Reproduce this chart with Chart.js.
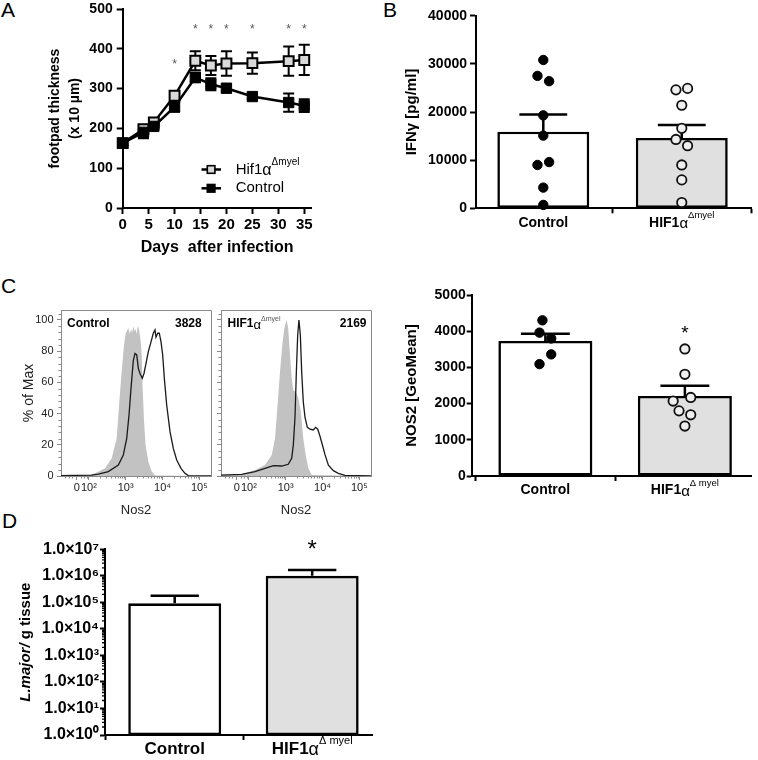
<!DOCTYPE html>
<html><head><meta charset="utf-8">
<script src="https://cdn.jsdelivr.net/npm/chart.js@4.4.1/dist/chart.umd.min.js"></script>
<style>
html,body{margin:0;padding:0;background:#fff;}
#fig{position:relative;width:758px;height:760px;overflow:hidden;background:#fff;}
#fig canvas{position:absolute;}
.lbl{position:absolute;font-family:'Liberation Sans',Arial,Helvetica,sans-serif;font-size:21px;line-height:1;color:#000;}
</style></head><body>
<div id="fig">
<div class="lbl" style="left:1px;top:-1px">A</div>
<div class="lbl" style="left:383px;top:-1px">B</div>
<div class="lbl" style="left:1px;top:275px">C</div>
<div class="lbl" style="left:2px;top:510px">D</div>
</div>
<script>
// ================= DATA =================
// Panel A: footpad thickness (x 10 µm) over days after infection
const daysA = [0, 4, 6, 10, 14, 17, 20, 25, 32, 35];
const hifMeanA = [163, 198, 215, 282, 370, 358, 363, 364, 369, 372];
const hifSemA = [5, 8, 6, 11, 24, 24, 31, 27, 37, 38];
const ctrlMeanA = [163, 190, 205, 254, 328, 311, 301, 280, 265, 257];
const ctrlSemA = [5, 15, 7, 12, 12, 15, 10, 7, 23, 16];
const dayTicksA = [0, 5, 10, 15, 20, 25, 30, 35];
const yTicksA = [0, 100, 200, 300, 400, 500];
const starDaysA = [10, 14, 17, 20, 25, 32, 35];
const starValsA = [368, 458, 458, 458, 458, 458, 458];
const seriesNamesA = ['Hif1α', 'Control'];

// Groups
const groupNames = ['Control', 'HIF1α'];

// Panel B: IFNγ [pg/ml]
const ifngCtrl = [30800, 27500, 26400, 19300, 15100, 9000, 9600, 4300, 700];
const ifngHif = [24600, 24900, 21400, 16600, 14300, 13000, 9000, 5900, 1200];
const ifngMean = [15900, 14600];
const ifngSem = [3600, 2700];
const yTicksB = [0, 10000, 20000, 30000, 40000];

// Panel C: Nos2 histograms (x = log10 fluorescence, y = % of max)
const histTickPos = [1.67, 2, 3, 4, 5];
const histTickLabels = ['0', '10²', '10³', '10⁴', '10⁵'];
const histYTicks = [0, 20, 40, 60, 80, 100];
const histGeoMean = [3828, 2169];
const ctrlIsoX = [1.242, 1.98, 2.166, 2.44, 2.62, 2.755, 2.82, 2.89, 2.954, 3.0, 3.035, 3.07, 3.11, 3.145, 3.18, 3.21, 3.24, 3.27, 3.30, 3.326, 3.35, 3.37, 3.41, 3.435, 3.46, 3.50, 3.54, 3.615, 3.71, 3.80, 5.318];
const ctrlIsoY = [0, 0.5, 1.7, 4.9, 11.3, 24, 45.5, 66.9, 84, 91.5, 93, 95, 91, 94, 92, 96, 93, 94, 91, 96, 95, 93, 86, 77.6, 56, 34.8, 19.9, 9.2, 2.8, 0.3, 0];
const ctrlNosX = [1.242, 1.6, 2.075, 2.255, 2.527, 2.80, 2.935, 3.027, 3.09, 3.144, 3.207, 3.253, 3.30, 3.343, 3.389, 3.452, 3.497, 3.543, 3.615, 3.688, 3.75, 3.796, 3.823, 3.87, 3.913, 3.96, 4.005, 4.05, 4.114, 4.204, 4.294, 4.386, 4.503, 4.61, 4.70, 5.318];
const ctrlNosY = [0.3, 0.4, 0.5, 1.2, 2.8, 7, 13.5, 24, 39, 56, 74, 78.6, 77.6, 69, 65.7, 62.6, 65.7, 71, 79.7, 86, 91.5, 93.6, 89, 91.5, 91.5, 86, 77.6, 62.6, 45.5, 28.4, 17.7, 10.3, 4.9, 1.7, 0.3, 0];
const hifIsoX = [1.242, 1.804, 2.166, 2.437, 2.62, 2.71, 2.78, 2.845, 2.908, 2.963, 3.0, 3.027, 3.05, 3.07, 3.117, 3.163, 3.207, 3.27, 3.343, 3.41, 3.478, 3.543, 3.615, 3.706, 5.318];
const hifIsoY = [0.5, 1.2, 3.8, 7, 13.5, 24, 45.5, 66.9, 84, 94.7, 98, 100, 97, 94, 77.6, 62.6, 55, 54, 50, 41.5, 24, 13.5, 4.9, 0.6, 0];
const hifNosX = [1.242, 1.804, 2.166, 2.437, 2.665, 2.89, 3.07, 3.163, 3.207, 3.253, 3.29, 3.326, 3.36, 3.398, 3.434, 3.478, 3.525, 3.589, 3.66, 3.75, 3.815, 3.87, 3.93, 3.996, 4.07, 4.16, 4.296, 4.43, 4.61, 5.318];
const hifNosY = [0.5, 1, 2.8, 4.9, 6.6, 6.4, 7.5, 11.3, 19.8, 37.6, 66.9, 90.4, 100, 90.4, 66.9, 47.6, 37.6, 31.2, 30, 29.5, 31.2, 30, 25.6, 20, 13.5, 7, 3.4, 1.7, 0.4, 0];

// Panel C right: NOS2 [GeoMean]
const nosCtrl = [4300, 3960, 3800, 3360, 3090];
const nosHif = [3510, 2810, 2070, 2170, 1800, 1690, 1380];
const nosMean = [3730, 2210];
const nosSem = [200, 280];
const yTicksC = [0, 1000, 2000, 3000, 4000, 5000];
const nosStarValue = 4080;

// Panel D: L. major per g tissue
const parasiteMean = [92000, 1000000];
const parasiteSem = [87000, 660000];
const yTicksD = [1, 10, 100, 1000, 10000, 100000, 1000000, 10000000];
const yTickLabelsD = ['1.0×10⁰', '1.0×10¹', '1.0×10²', '1.0×10³', '1.0×10⁴', '1.0×10⁵', '1.0×10⁶', '1.0×10⁷'];
const parasiteStarValue = 17000000;

// ================= STYLE / HELPERS =================
const FF = "'Liberation Sans', Arial, Helvetica, sans-serif";
Chart.defaults.font.family = FF;
Chart.defaults.color = '#000';
Chart.defaults.animation = false;
Chart.defaults.responsive = false;
Chart.defaults.devicePixelRatio = 1;
Chart.defaults.plugins.legend.display = false;
Chart.defaults.plugins.tooltip.enabled = false;

// point jitter (in units of group spacing)
const jitB = { ctrl: [0, -1, 1, 0, 0, -1, 1, 0, 0], hif: [-1, 1, 0, 0, -1, 1, 0, 0, 0] };
const jitC = { ctrl: [-0.5, -1, 1, 1, -1], hif: [0, 0, -2, 1, -1, 1, 0] };

const F = (w, s, st) => (st ? st + ' ' : '') + w + ' ' + s + 'px ' + FF;
function drawRich(ctx, parts, x, y, align) {
  ctx.save();
  let w = 0;
  for (const p of parts) { ctx.font = p.f; w += ctx.measureText(p.t).width; }
  let cx = align === 'center' ? x - w / 2 : (align === 'right' ? x - w : x);
  ctx.textAlign = 'left'; ctx.textBaseline = 'middle';
  for (const p of parts) {
    ctx.font = p.f; ctx.fillStyle = p.c || '#000';
    ctx.fillText(p.t, cx, y + (p.dy || 0));
    cx += ctx.measureText(p.t).width;
  }
  ctx.restore();
}
function drawStar(ctx, x, yc, size, color) {
  ctx.save();
  ctx.font = F('normal', size); ctx.fillStyle = color; ctx.textAlign = 'center'; ctx.textBaseline = 'alphabetic';
  ctx.fillText('*', x, yc + size * 0.58);
  ctx.restore();
}
function geom(L, T, W, H, box) { return { yw: box.l - L, xh: T + H - box.b, pt: box.t - T, pr: L + W - box.r }; }
function mkCanvas(id, L, T, W, H) {
  const c = document.createElement('canvas'); c.id = id; c.width = W; c.height = H;
  c.style.left = L + 'px'; c.style.top = T + 'px'; c.style.width = W + 'px'; c.style.height = H + 'px';
  document.getElementById('fig').appendChild(c); return c;
}
const fixY = g => s => { s.width = g.yw; s.paddingTop = 0; s.paddingBottom = 0; };
const fixX = g => s => { s.height = g.xh; s.paddingLeft = 0; s.paddingRight = 0; };
const setTicks = vals => s => { s.ticks = vals.map(v => ({ value: v })); };
function axisStyle(color, width, tl) {
  return {
    grid: { display: true, drawOnChartArea: false, drawTicks: true, tickLength: tl, tickWidth: width, tickColor: color },
    border: { display: true, color: color, width: width }
  };
}
function barErrors(means, sems, capFrac, lw) {
  return { id: 'barErr', afterDatasetDraw(chart, args) {
    if (args.meta.type !== 'bar') return;
    const ctx = chart.ctx, ys = chart.scales.y;
    ctx.save(); ctx.strokeStyle = '#000'; ctx.lineWidth = lw;
    args.meta.data.forEach((bar, i) => {
      const yTop = ys.getPixelForValue(means[i] + sems[i]);
      const yM = ys.getPixelForValue(means[i]);
      const half = bar.width * capFrac;
      ctx.beginPath();
      ctx.moveTo(bar.x, yM); ctx.lineTo(bar.x, yTop);
      ctx.moveTo(bar.x - half, yTop); ctx.lineTo(bar.x + half, yTop);
      ctx.stroke();
    });
    ctx.restore();
  } };
}
function catLabels(size, supText, supSize, supDy, dy) {
  return { id: 'catLabels', afterDraw(chart) {
    const ctx = chart.ctx, xs = chart.scales.x, y = chart.chartArea.bottom + dy;
    drawRich(ctx, [{ t: groupNames[0], f: F('bold', size) }], xs.getPixelForValue(0), y, 'center');
    const base = groupNames[1].replace('α', '');
    drawRich(ctx, [
      { t: base, f: F('bold', size) },
      { t: 'α', f: F('normal', size + 1), dy: 1 },
      { t: supText, f: F('normal', supSize), dy: supDy }
    ], xs.getPixelForValue(1), y, 'center');
  } };
}

// ================= PANEL A =================
(function () {
  const L = 0, T = 0, W = 380, H = 262;
  const g = geom(L, T, W, H, { l: 122.7, t: 7.5, r: 311.5, b: 208 });
  const cv = mkCanvas('cA', L, T, W, H);
  const errA = { id: 'errA', beforeDatasetsDraw(chart) {
    const ctx = chart.ctx, xs = chart.scales.x, ys = chart.scales.y;
    ctx.save(); ctx.strokeStyle = '#000'; ctx.lineWidth = 2;
    [[ctrlMeanA, ctrlSemA], [hifMeanA, hifSemA]].forEach(([m, s]) => {
      daysA.forEach((d, i) => {
        const x = xs.getPixelForValue(d), y1 = ys.getPixelForValue(m[i] - s[i]), y2 = ys.getPixelForValue(m[i] + s[i]);
        ctx.beginPath();
        ctx.moveTo(x, y1); ctx.lineTo(x, y2);
        ctx.moveTo(x - 5.5, y1); ctx.lineTo(x + 5.5, y1);
        ctx.moveTo(x - 5.5, y2); ctx.lineTo(x + 5.5, y2);
        ctx.stroke();
      });
    });
    ctx.restore();
  } };
  const starsA = { id: 'starsA', afterDatasetsDraw(chart) {
    const xs = chart.scales.x, ys = chart.scales.y;
    starDaysA.forEach((d, i) => drawStar(chart.ctx, xs.getPixelForValue(d), ys.getPixelForValue(starValsA[i]), 12, '#555'));
  } };
  const legendA = { id: 'legendA', afterDraw(chart) {
    const ctx = chart.ctx;
    const rows = [{ y: 169.5, fill: '#d9d9d9', sup: 'Δmyel' }, { y: 188.3, fill: '#000', sup: '' }];
    rows.forEach((r, i) => {
      ctx.save();
      ctx.strokeStyle = '#000'; ctx.lineWidth = 2.5;
      ctx.beginPath(); ctx.moveTo(201.5, r.y); ctx.lineTo(221, r.y); ctx.stroke();
      ctx.fillStyle = r.fill; ctx.lineWidth = 1.6;
      ctx.fillRect(207.3, r.y - 3.8, 7.6, 7.6); ctx.strokeRect(207.3, r.y - 3.8, 7.6, 7.6);
      ctx.restore();
      const name = seriesNamesA[i];
      if (r.sup) {
        drawRich(ctx, [{ t: name.replace('α', ''), f: F('normal', 15) }, { t: 'α', f: F('normal', 16), dy: 1 }, { t: r.sup, f: F('normal', 10), dy: -7 }], 235.7, r.y, 'left');
      } else {
        drawRich(ctx, [{ t: name, f: F('normal', 15) }], 235.7, r.y, 'left');
      }
    });
  } };
  new Chart(cv, {
    type: 'line',
    data: { datasets: [
      { label: seriesNamesA[1], data: daysA.map((d, i) => ({ x: d, y: ctrlMeanA[i] })), borderColor: '#000', borderWidth: 2.5,
        pointStyle: 'rect', pointRadius: 7.3, pointBackgroundColor: '#000', pointBorderColor: '#000', pointBorderWidth: 1, clip: false, order: 0 },
      { label: seriesNamesA[0], data: daysA.map((d, i) => ({ x: d, y: hifMeanA[i] })), borderColor: '#000', borderWidth: 2.5,
        pointStyle: 'rect', pointRadius: 7, pointBackgroundColor: '#d9d9d9', pointBorderColor: '#000', pointBorderWidth: 2, clip: false, order: 1 }
    ] },
    options: {
      layout: { padding: { top: g.pt, right: g.pr, left: 0, bottom: 0 } },
      scales: {
        x: Object.assign({ type: 'linear', min: 0, max: 36.4, afterBuildTicks: setTicks(dayTicksA), afterFit: fixX(g),
          ticks: { font: { size: 15, weight: 'bold', lineHeight: 1 }, padding: 3.5, maxRotation: 0, autoSkip: false },
          title: { display: true, text: 'Days  after infection', font: { size: 16, weight: 'bold' }, padding: { top: 0, bottom: 4.4 } } },
          axisStyle('#000', 2, 6)),
        y: Object.assign({ type: 'linear', min: 0, max: 500, afterBuildTicks: setTicks(yTicksA), afterFit: fixY(g),
          ticks: { font: { size: 14, weight: 'bold', lineHeight: 1 }, padding: 4, callback: v => String(v) },
          title: { display: true, text: ['footpad thickness', '(x 10 µm)'], font: { size: 14, weight: 'bold', lineHeight: 1.45 }, padding: { top: 44.8, bottom: 0 } } },
          axisStyle('#000', 2, 6))
      }
    },
    plugins: [errA, starsA, legendA]
  });
})();

// ================= BAR + DOT PANELS (B, C right) =================
function dotBarChart(id, L, T, W, H, box, xr, barPct, ctrl, hif, jit, means, sems, yMax, yTicks, yTitle, tl, tpad, sup, extra) {
  const g = geom(L, T, W, H, box);
  const cv = mkCanvas(id, L, T, W, H);
  const unit = 0.042;
  new Chart(cv, {
    type: 'bar',
    data: { datasets: [
      { type: 'scatter', data: ctrl.map((v, i) => ({ x: 0 + jit.ctrl[i] * unit, y: v })), pointRadius: 4.7,
        pointBackgroundColor: '#000', pointBorderColor: '#000', pointBorderWidth: 1, order: 0, clip: false },
      { type: 'scatter', data: hif.map((v, i) => ({ x: 1 + jit.hif[i] * unit, y: v })), pointRadius: 4.7,
        pointBackgroundColor: '#efefef', pointBorderColor: '#111', pointBorderWidth: 1.8, order: 0, clip: false },
      { type: 'bar', data: means.map((v, i) => ({ x: i, y: v })), backgroundColor: ['#ffffff', '#e0e0e0'],
        borderColor: '#000', borderWidth: 2.6, borderSkipped: false, barPercentage: barPct, categoryPercentage: 1, order: 1 }
    ] },
    options: {
      layout: { padding: { top: g.pt, right: g.pr, left: 0, bottom: 0 } },
      scales: {
        x: Object.assign({ type: 'linear', offset: false, min: xr[0], max: xr[1], afterBuildTicks: setTicks([0, 1]), afterFit: fixX(g),
          ticks: { callback: () => '' } }, axisStyle('#000', 2, 5)),
        y: Object.assign({ type: 'linear', min: 0, max: yMax, afterBuildTicks: setTicks(yTicks), afterFit: fixY(g),
          ticks: { font: { size: 14, weight: 'bold', lineHeight: 1 }, padding: tpad, callback: (v, i) => String(yTicks[i]) },
          title: { display: true, text: yTitle, font: { size: 15, weight: 'bold', lineHeight: 1.2 }, padding: { top: 22.7, bottom: 0 } } },
          axisStyle('#000', 2, tl))
      }
    },
    plugins: [barErrors(means, sems, 0.26, 2.5), catLabels(14, sup, 9.5, -7, 14.5)].concat(extra || [])
  });
}
dotBarChart('cB', 380, 0, 378, 262, { l: 476, t: 15.7, r: 751, b: 208.3 }, [-0.486, 1.5], 0.664,
  ifngCtrl, ifngHif, jitB, ifngMean, ifngSem, 40000, yTicksB, 'IFNγ [pg/ml]', 6, 3, 'Δmyel');
dotBarChart('cC3', 380, 262, 378, 248, { l: 471.7, t: 295, r: 751, b: 476 }, [-0.528, 1.474], 0.674,
  nosCtrl, nosHif, jitC, nosMean, nosSem, 5000, yTicksC, 'NOS2 [GeoMean]', 5, 1, 'Δ myel',
  [{ id: 'starC', afterDatasetsDraw(chart) {
    drawStar(chart.ctx, chart.scales.x.getPixelForValue(1), chart.scales.y.getPixelForValue(nosStarValue), 19, '#000');
  } }]);

// ================= HISTOGRAMS (C left) =================
function histChart(id, L, T, W, H, box, isoX, isoY, nosX, nosY, showY, idx, rightInset) {
  const g = geom(L, T, W, H, box);
  const cv = mkCanvas(id, L, T, W, H);
  const deco = { id: 'histDeco', afterDraw(chart) {
    const ctx = chart.ctx, a = chart.chartArea, xs = chart.scales.x, ys = chart.scales.y;
    ctx.save();
    ctx.strokeStyle = '#8a8a8a'; ctx.lineWidth = 1;
    ctx.beginPath();
    ctx.moveTo(a.left, a.top + 0.5); ctx.lineTo(a.right + 0.5, a.top + 0.5); ctx.lineTo(a.right + 0.5, a.bottom);
    ctx.stroke();
    ctx.beginPath();
    for (let v = 4; v <= 104; v += 4) {
      if (v % 20 === 0) continue;
      const y = Math.round(ys.getPixelForValue(v)) + 0.5;
      ctx.moveTo(a.left - 2.5, y); ctx.lineTo(a.left, y);
    }
    for (let d = 2; d < 5; d++) for (let k = 2; k < 10; k++) {
      const x = Math.round(xs.getPixelForValue(d + Math.log10(k))) + 0.5;
      ctx.moveTo(x, a.bottom); ctx.lineTo(x, a.bottom + 2.5);
    }
    [1.35, 1.45, 1.55, 1.78, 1.87, 1.94].forEach(u => {
      const x = Math.round(xs.getPixelForValue(u)) + 0.5;
      ctx.moveTo(x, a.bottom); ctx.lineTo(x, a.bottom + 2.5);
    });
    ctx.stroke();
    ctx.restore();
    const y = a.top + 14;
    if (idx === 0) {
      drawRich(ctx, [{ t: groupNames[0], f: F('bold', 12) }], a.left + 6, y, 'left');
    } else {
      drawRich(ctx, [{ t: groupNames[1].replace('α', ''), f: F('bold', 12) }, { t: 'α', f: F('normal', 13), dy: 1 },
        { t: 'Δmyel', f: F('normal', 7), dy: -5, c: '#555' }], a.left + 6.5, y, 'left');
    }
    drawRich(ctx, [{ t: String(histGeoMean[idx]), f: F('bold', 12) }], a.right - rightInset, y, 'right');
  } };
  new Chart(cv, {
    type: 'line',
    data: { datasets: [
      { data: nosX.map((x, i) => ({ x: x, y: nosY[i] })), borderColor: '#1a1a1a', borderWidth: 1.3, pointRadius: 0, fill: false, order: 0 },
      { data: isoX.map((x, i) => ({ x: x, y: isoY[i] })), borderColor: 'rgba(0,0,0,0)', borderWidth: 0, backgroundColor: '#c2c2c2', pointRadius: 0, fill: 'origin', order: 1 }
    ] },
    options: {
      layout: { padding: { top: g.pt, right: g.pr, left: 0, bottom: 0 } },
      scales: {
        x: Object.assign({ type: 'linear', min: 1.242, max: 5.318, afterBuildTicks: setTicks(histTickPos), afterFit: fixX(g),
          ticks: { font: { size: 11, lineHeight: 1 }, color: '#222', padding: 2.5, maxRotation: 0, autoSkip: false, callback: (v, i) => histTickLabels[i] },
          title: { display: true, text: 'Nos2', font: { size: 13, lineHeight: 1.2 }, color: '#222', padding: { top: 0, bottom: 7.2 } } },
          axisStyle('#8a8a8a', 1, 4)),
        y: Object.assign({ type: 'linear', min: 0, max: 106.4, afterBuildTicks: setTicks(histYTicks), afterFit: fixY(g),
          ticks: { font: { size: 11, lineHeight: 1 }, color: '#222', padding: 3.5, callback: (v, i) => showY ? String(histYTicks[i]) : '' },
          title: { display: showY, text: '% of Max', font: { size: 14, lineHeight: 1.2 }, color: '#222', padding: { top: 20.9, bottom: 0 } } },
          axisStyle('#8a8a8a', 1, 4))
      }
    },
    plugins: [deco]
  });
}
histChart('cC1', 0, 300, 215, 225, { l: 61, t: 310, r: 211, b: 476 }, ctrlIsoX, ctrlIsoY, ctrlNosX, ctrlNosY, true, 0, 9.3);
histChart('cC2', 215, 300, 160, 225, { l: 221, t: 310, r: 371, b: 476 }, hifIsoX, hifIsoY, hifNosX, hifNosY, false, 1, 4.5);

// ================= PANEL D =================
(function () {
  const L = 0, T = 510, W = 420, H = 250;
  const g = geom(L, T, W, H, { l: 105, t: 549.3, r: 372, b: 735 });
  const cv = mkCanvas('cD', L, T, W, H);
  const decoD = { id: 'decoD', afterDraw(chart) {
    const ctx = chart.ctx, a = chart.chartArea, ys = chart.scales.y;
    ctx.save(); ctx.strokeStyle = '#000'; ctx.lineWidth = 1.3; ctx.beginPath();
    for (let d = 0; d < 7; d++) for (let k = 2; k < 10; k++) {
      const y = ys.getPixelForValue(k * Math.pow(10, d));
      ctx.moveTo(a.left - 3, y); ctx.lineTo(a.left, y);
    }
    ctx.stroke(); ctx.restore();
    ctx.save();
    ctx.translate(26, (a.top + a.bottom) / 2); ctx.rotate(-Math.PI / 2);
    drawRich(ctx, [{ t: 'L.major/', f: F('bold', 15, 'italic') }, { t: ' g tissue', f: F('bold', 15) }], 0, 0, 'center');
    ctx.restore();
    drawStar(ctx, chart.scales.x.getPixelForValue(1), ys.getPixelForValue(parasiteStarValue), 24, '#000');
  } };
  new Chart(cv, {
    type: 'bar',
    data: { datasets: [
      { data: parasiteMean.map((v, i) => ({ x: i, y: v })), backgroundColor: ['#ffffff', '#e0e0e0'], borderColor: '#000',
        borderWidth: 2.6, borderSkipped: false, barPercentage: 0.676, categoryPercentage: 1 }
    ] },
    options: {
      layout: { padding: { top: g.pt, right: g.pr, left: 0, bottom: 0 } },
      scales: {
        x: Object.assign({ type: 'linear', offset: false, min: -0.507, max: 1.435, afterBuildTicks: setTicks([0, 1]), afterFit: fixX(g),
          ticks: { callback: () => '' } }, axisStyle('#000', 2, 5)),
        y: Object.assign({ type: 'logarithmic', min: 1, max: 10000000, afterBuildTicks: setTicks(yTicksD), afterFit: fixY(g),
          ticks: { font: { size: 16, weight: 'bold', lineHeight: 1 }, padding: 1, callback: (v, i) => yTickLabelsD[i] } },
          axisStyle('#000', 2, 5))
      }
    },
    plugins: [barErrors(parasiteMean, parasiteSem, 0.26, 2.5), catLabels(17, 'Δ myel', 11, -8, 14), decoD]
  });
})();
</script>
</body></html>
